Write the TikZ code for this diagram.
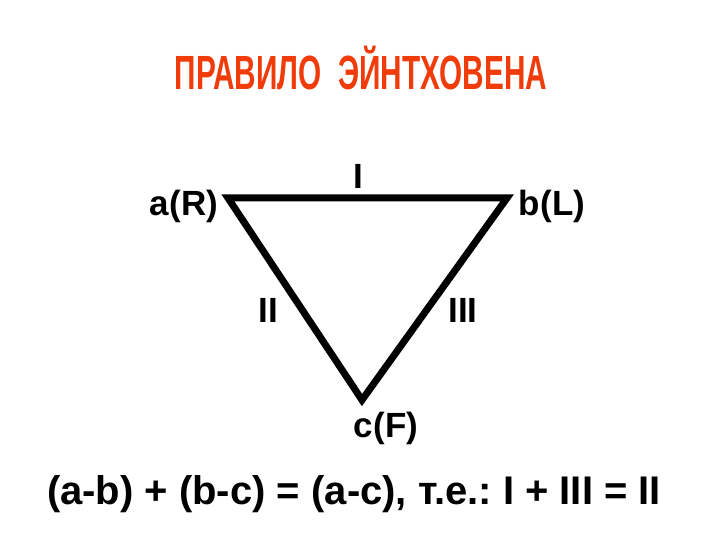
\documentclass[tikz,border=0pt]{standalone}
\usepackage{fontspec}
\setmainfont{Liberation Sans}
\frenchspacing
\definecolor{titlered}{HTML}{F03C0A}
\begin{document}
\begin{tikzpicture}[x=1pt,y=-1pt,
  lbl/.style={font=\fontsize{35}{35}\selectfont\bfseries, inner sep=0pt},
  side/.style={line width=7pt, line join=miter}]
\useasboundingbox (0,0) rectangle (720,540);
\node[inner sep=0pt, text=titlered, font=\fontsize{48}{48}\selectfont\bfseries, xscale=0.62] (title) at (361,68) {ПРАВИЛО\ \ ЭЙНТХОВЕНА};
\coordinate (a) at (228,198);
\coordinate (b) at (507,198);
\coordinate (c) at (362,400);
\draw[side] (a) -- (b) -- (c) -- cycle;
\node[lbl] (aR) at (184,206) {a(R)};
\node[lbl] (bL) at (552,206) {b(L)};
\node[lbl] (I) at (358,176) {I};
\node[lbl] (II) at (268,310) {II};
\node[lbl] (III) at (463,310) {III};
\node[lbl] (cF) at (386,428) {c(F)};
\node[lbl, font=\fontsize{40}{40}\selectfont\bfseries] (eq) at (354,494) {(a-b) + (b-c) = (a-c), т.е.: I + III = II};
\end{tikzpicture}
\end{document}
